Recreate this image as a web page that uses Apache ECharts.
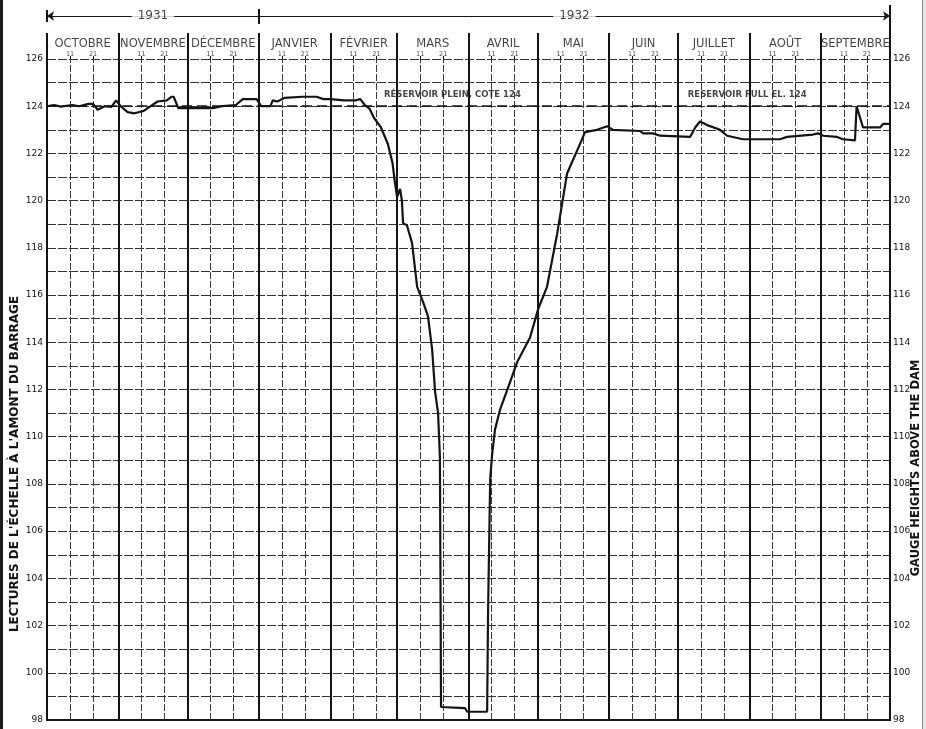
<!DOCTYPE html>
<html><head><meta charset="utf-8">
<script src="https://cdn.jsdelivr.net/npm/echarts@6/dist/echarts.min.js"></script>
<style>html,body{margin:0;padding:0;background:#fff}#c{width:926px;height:729px}</style>
</head><body><div id="c"></div>
<script>
// ---- data ----
const dates = [
'1931-10-01','1931-10-04','1931-10-07','1931-10-12','1931-10-15','1931-10-19','1931-10-21','1931-10-23','1931-10-26','1931-10-29','1931-10-31',
'1931-11-02','1931-11-05','1931-11-08','1931-11-12','1931-11-15','1931-11-18','1931-11-22','1931-11-24','1931-11-25','1931-11-27',
'1931-12-12','1931-12-16','1931-12-22','1931-12-25','1931-12-31',
'1932-01-02','1932-01-06','1932-01-07','1932-01-09','1932-01-12','1932-01-20','1932-01-26','1932-01-29',
'1932-02-01','1932-02-07','1932-02-12','1932-02-14','1932-02-16','1932-02-18','1932-02-20','1932-02-23','1932-02-26','1932-02-28','1932-02-29 02:00',
'1932-03-01','1932-03-02 07:00','1932-03-03 02:00','1932-03-03 14:00','1932-03-05 07:00','1932-03-07 12:00','1932-03-09 17:00','1932-03-12 07:00','1932-03-14 10:00','1932-03-16 05:00','1932-03-17 12:00','1932-03-18 19:00','1932-03-19 14:00','1932-03-20 02:00','1932-03-30 12:00','1932-03-31 10:00',
'1932-04-09 02:00','1932-04-09 12:00','1932-04-10 10:00','1932-04-11 05:00','1932-04-12 12:00','1932-04-14 17:00','1932-04-19','1932-04-22 02:00','1932-04-27 17:00','1932-04-29 22:00',
'1932-05-01 05:00','1932-05-05 02:00','1932-05-09 12:00','1932-05-13 19:00','1932-05-18 02:00','1932-05-21 14:00','1932-05-26 19:00','1932-05-31 05:00',
'1932-06-02 19:00','1932-06-14 12:00','1932-06-15 19:00','1932-06-20 02:00','1932-06-23 05:00',
'1932-07-06 05:00','1932-07-08 10:00','1932-07-10 12:00','1932-07-13 14:00','1932-07-19 05:00','1932-07-22 07:00','1932-07-29 05:00',
'1932-08-14 07:00','1932-08-17 07:00','1932-08-28 14:00','1932-08-30 19:00',
'1932-09-02','1932-09-08','1932-09-10 14:00','1932-09-15 19:00','1932-09-16 12:00','1932-09-19 07:00','1932-09-26 17:00','1932-09-28','1932-10-01'
];
const levels = [
124.0,124.05,123.98,124.05,124.0,124.1,124.1,123.85,124.0,123.97,124.25,
124.0,123.75,123.7,123.8,124.0,124.2,124.25,124.4,124.4,123.92,
123.92,124.0,124.05,124.3,124.3,
124.0,124.0,124.25,124.2,124.35,124.4,124.4,124.3,
124.3,124.25,124.25,124.3,124.05,123.9,123.5,123.1,122.4,121.6,120.75,
120.15,120.5,120.0,119.05,118.95,118.2,116.35,115.7,115.1,113.7,111.9,111.0,109.15,98.55,98.5,98.35,
98.35,102.6,108.2,109.2,110.3,111.15,112.3,113.15,114.2,114.95,
115.4,116.35,118.6,121.15,122.1,122.9,123.0,123.15,
123.0,122.95,122.85,122.85,122.75,
122.7,123.1,123.35,123.2,123.0,122.75,122.6,
122.6,122.7,122.8,122.85,
122.75,122.7,122.6,122.55,124.0,123.1,123.1,123.25,123.25
];
const monthStarts = ['1931-10-01','1931-11-01','1931-12-01','1932-01-01','1932-02-01','1932-03-01','1932-04-01','1932-05-01','1932-06-01','1932-07-01','1932-08-01','1932-09-01','1932-10-01'];
const monthNames = ['OCTOBRE','NOVEMBRE','DÉCEMBRE','JANVIER','FÉVRIER','MARS','AVRIL','MAI','JUIN','JUILLET','AOÛT','SEPTEMBRE'];
const dayMarks = [11, 21];
const yearNames = ['1931','1932'];
const yearBounds = ['1931-10-01','1932-01-01','1932-10-01'];
const yMin = 98, yMax = 126;
const fullLevel = 124;
const fullNotes = ['RÉSERVOIR PLEIN, COTE 124', 'RESERVOIR FULL EL. 124'];
const fullNoteDates = ['1932-03-25','1932-07-31'];
const leftTitle = "LECTURES DE L'ÉCHELLE À L'AMONT DU BARRAGE";
const rightTitle = 'GAUGE HEIGHTS ABOVE THE DAM';

// ---- build ----
const T = s => +echarts.time.parse(s);
const xMin = T(monthStarts[0]), xMax = T(monthStarts[monthStarts.length - 1]);
const ink = '#141414';
const FONT = 'DejaVu Sans';
// header layout (values = pixels above plot top)
const H = { monthTop: 26, monthText: 15, dayText: 4.5, yearLine: 43, top: 54 };

const minor = [];
monthStarts.slice(0, 12).forEach(s => {
  const [y, m] = s.split('-');
  dayMarks.forEach(d => minor.push({ t: T(`${y}-${m}-${d}`), d }));
});
const monthMids = monthNames.map((n, i) => ({ name: n, value: [(T(monthStarts[i]) + T(monthStarts[i + 1])) / 2, H.monthText] }));
const yearMids = yearNames.map((n, i) => ({ name: n, value: [(T(yearBounds[i]) + T(yearBounds[i + 1])) / 2, H.yearLine] }));

const gridLines = [];
monthStarts.forEach(s => gridLines.push({ xAxis: T(s), lineStyle: { color: ink, width: 2, type: 'solid' } }));
minor.forEach(m => gridLines.push({ xAxis: m.t, lineStyle: { color: '#3a3a3a', width: 1, type: [7, 2] } }));

const headLines = [];
monthStarts.forEach((s, i) => {
  const top = (i === monthStarts.length - 1) ? H.top : H.monthTop;
  headLines.push([{ coord: [T(s), 0] }, { coord: [T(s), top] }]);
});
minor.forEach(m => headLines.push([{ coord: [m.t, 0], lineStyle: { width: 1 } }, { coord: [m.t, 3] }]));
headLines.push([{ coord: [T(yearBounds[0]), 37] }, { coord: [T(yearBounds[0]), 49] }]);
headLines.push([{ coord: [T(yearBounds[1]), 35] }, { coord: [T(yearBounds[1]), 50] }]);
headLines.push([{ coord: [xMin, H.yearLine], symbol: 'arrow', lineStyle: { width: 1 } }, { coord: [xMax, H.yearLine], symbol: 'arrow' }]);

const tickFmt = v => (v % 2 === 0 ? String(v) : '');

const option = {
  animation: false,
  backgroundColor: '#fff',
  grid: [
    { left: 47, right: 36, top: 59, bottom: 9 },
    { left: 47, right: 36, top: 5, height: 54 }
  ],
  xAxis: [
    { type: 'time', gridIndex: 0, min: xMin, max: xMax, axisLine: { lineStyle: { color: ink, width: 2 } }, axisTick: { show: false }, axisLabel: { show: false }, splitLine: { show: false } },
    { type: 'time', gridIndex: 1, min: xMin, max: xMax, show: false }
  ],
  yAxis: [
    { type: 'value', gridIndex: 0, min: yMin, max: yMax, interval: 1, position: 'left',
      axisLine: { show: true, lineStyle: { color: ink, width: 2 } }, axisTick: { show: false },
      axisLabel: { formatter: tickFmt, fontSize: 9, color: ink, margin: 4, fontFamily: FONT },
      splitLine: { show: true, lineStyle: { color: '#333', width: 1, type: [9, 2] } } },
    { type: 'value', gridIndex: 0, min: yMin, max: yMax, interval: 1, position: 'right',
      axisLine: { show: true, lineStyle: { color: ink, width: 2 } }, axisTick: { show: false },
      axisLabel: { formatter: tickFmt, fontSize: 9, color: ink, margin: 3, fontFamily: FONT },
      splitLine: { show: false } },
    { type: 'value', gridIndex: 1, min: 0, max: H.top, show: false }
  ],
  series: [
    { type: 'line', xAxisIndex: 0, yAxisIndex: 0, data: [], z: 1, silent: true,
      markLine: { silent: true, symbol: ['none', 'none'], label: { show: false }, animation: false, data: gridLines } },
    { type: 'line', xAxisIndex: 0, yAxisIndex: 0, data: [], z: 2, silent: true,
      markLine: { silent: true, symbol: ['none', 'none'], label: { show: false }, animation: false,
        data: [{ yAxis: fullLevel, lineStyle: { color: ink, width: 1.5, type: [10, 5] } }] } },
    { type: 'line', name: 'level', xAxisIndex: 0, yAxisIndex: 0, z: 5,
      data: dates.map((d, i) => [T(d), levels[i]]), symbol: 'none',
      lineStyle: { color: ink, width: 2.2 } },
    { type: 'scatter', xAxisIndex: 0, yAxisIndex: 0, z: 6, symbolSize: 1, itemStyle: { color: 'rgba(0,0,0,0)' },
      data: fullNotes.map((n, i) => ({ name: n, value: [T(fullNoteDates[i]), fullLevel + 0.5] })),
      label: { show: true, position: 'inside', formatter: '{b}', fontSize: 8.5, fontWeight: 'bold', color: ink, fontFamily: FONT } },
    { type: 'line', xAxisIndex: 1, yAxisIndex: 2, data: [], z: 2, silent: true,
      markLine: { silent: true, symbol: ['none', 'none'], symbolSize: 7, label: { show: false }, animation: false,
        lineStyle: { color: ink, width: 2, type: 'solid' }, data: headLines } },
    { type: 'scatter', xAxisIndex: 1, yAxisIndex: 2, z: 8, symbolSize: 1, itemStyle: { color: 'rgba(0,0,0,0)' },
      data: monthMids,
      label: { show: true, position: 'inside', formatter: '{b}', fontSize: 11.5, color: ink, fontFamily: FONT } },
    { type: 'scatter', xAxisIndex: 1, yAxisIndex: 2, z: 8, symbolSize: 1, itemStyle: { color: 'rgba(0,0,0,0)' },
      data: minor.map(m => ({ name: String(m.d), value: [m.t, H.dayText] })),
      label: { show: true, position: 'inside', formatter: '{b}', fontSize: 6.5, color: ink, fontFamily: FONT } },
    { type: 'scatter', xAxisIndex: 1, yAxisIndex: 2, z: 9, symbolSize: 1, itemStyle: { color: 'rgba(0,0,0,0)' },
      data: yearMids,
      label: { show: true, position: 'inside', formatter: '{b}', fontSize: 12, color: ink, fontFamily: FONT,
        backgroundColor: '#fff', padding: [1, 6] } }
  ],
  graphic: [
    { type: 'rect', shape: { x: 0, y: 0, width: 3, height: 729 }, style: { fill: '#1a1a1a' }, silent: true },
    { type: 'rect', shape: { x: 922, y: 0, width: 1, height: 729 }, style: { fill: '#888' }, silent: true },
    { type: 'rect', shape: { x: 923, y: 0, width: 3, height: 729 }, style: { fill: '#e6e6e6' }, silent: true },
    { type: 'text', x: 15, y: 464, rotation: Math.PI / 2, silent: true,
      style: { text: leftTitle, fontSize: 12, fontWeight: 'bold', fontFamily: FONT, fill: ink, align: 'center', verticalAlign: 'middle' } },
    { type: 'text', x: 916, y: 468, rotation: Math.PI / 2, silent: true,
      style: { text: rightTitle, fontSize: 11.5, fontWeight: 'bold', fontFamily: FONT, fill: ink, align: 'center', verticalAlign: 'middle' } }
  ]
};
const chart = echarts.init(document.getElementById('c'));
chart.setOption(option);
</script>
</body></html>
